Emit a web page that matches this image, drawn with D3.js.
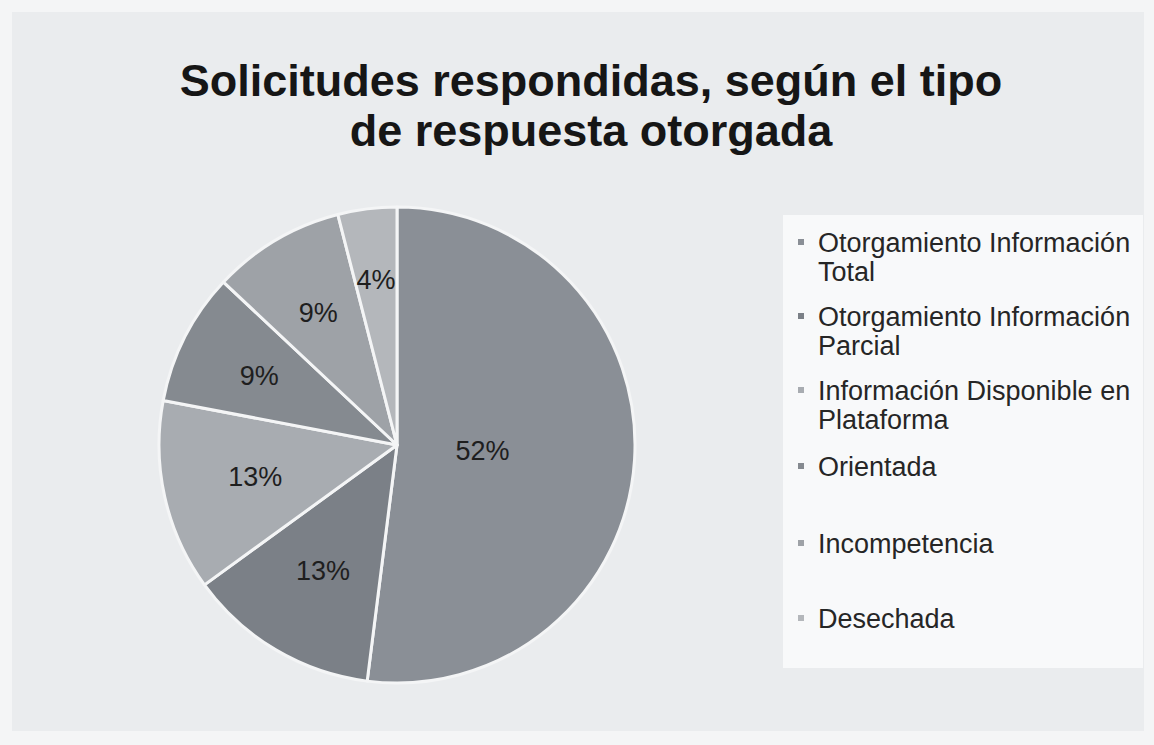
<!DOCTYPE html>
<html>
<head>
<meta charset="utf-8">
<script src="https://cdn.jsdelivr.net/npm/d3@7"></script>
<style>
  body { margin: 0; background: #f4f5f6; }
  svg { display: block; }
</style>
</head>
<body>
<svg id="chart"></svg>
<script>
// data
const categories = [
  ["Otorgamiento Información", "Total"],
  ["Otorgamiento Información", "Parcial"],
  ["Información Disponible en", "Plataforma"],
  ["Orientada"],
  ["Incompetencia"],
  ["Desechada"]
];
const values = [52, 13, 13, 9, 9, 4];
const colors = ["#8a8f96", "#7b8087", "#a8acb1", "#858a90", "#9ea2a7", "#b4b7bb"];
const titleLines = ["Solicitudes respondidas, según el tipo", "de respuesta otorgada"];

const font = "'Liberation Sans', Arial, sans-serif";
const W = 1154, H = 745;
const svg = d3.select("#chart").attr("width", W).attr("height", H);

// chart area (scan background)
svg.append("rect")
   .attr("x", 12).attr("y", 12)
   .attr("width", W - 22).attr("height", H - 26)
   .attr("fill", "#eaecee");

// title
svg.append("g")
   .selectAll("text")
   .data(titleLines)
   .enter().append("text")
   .attr("x", 591)
   .attr("y", (d, i) => 96 + i * 50)
   .attr("text-anchor", "middle")
   .attr("font-family", font)
   .attr("font-weight", "bold")
   .attr("font-size", 45)
   .attr("fill", "#161616")
   .text(d => d);

// pie
const cx = 397, cy = 445, R = 238;
const g = svg.append("g").attr("transform", `translate(${cx},${cy})`);

const pie = d3.pie().sort(null).value(d => d);
const arcs = pie(values);
const arc = d3.arc().innerRadius(0).outerRadius(R);
const total = d3.sum(values);

g.selectAll("path")
 .data(arcs)
 .enter().append("path")
 .attr("d", arc)
 .attr("fill", (d, i) => colors[i])
 .attr("stroke", "#f4f5f6")
 .attr("stroke-width", 3)
 .attr("stroke-linejoin", "round");

// labels - big slice sits near the centre, thin slices are pushed outward
const maxVal = d3.max(values);
g.selectAll(".lbl")
 .data(arcs)
 .enter().append("text")
 .attr("class", "lbl")
 .attr("transform", d => {
     const a = (d.startAngle + d.endAngle) / 2;
     const r = d.data === maxVal ? R * 0.36 : R * (0.61 + (0.13 - d.data / total));
     return `translate(${Math.sin(a) * r},${-Math.cos(a) * r})`;
 })
 .attr("text-anchor", "middle")
 .attr("dy", "0.36em")
 .attr("font-family", font)
 .attr("font-size", 27)
 .attr("fill", "#1e1e1e")
 .text(d => d.data + "%");

// legend
svg.append("rect")
   .attr("x", 783).attr("y", 215)
   .attr("width", 360).attr("height", 453)
   .attr("fill", "#f8f9fa");

const legendY = [252, 326, 400, 476, 553, 628];
const leg = svg.append("g")
   .selectAll("g")
   .data(categories)
   .enter().append("g")
   .attr("transform", (d, i) => `translate(798,${legendY[i]})`);

leg.append("rect")
   .attr("x", 0).attr("y", -13)
   .attr("width", 6).attr("height", 6)
   .attr("fill", (d, i) => colors[i]);

leg.append("text")
   .attr("font-family", font)
   .attr("font-size", 27)
   .attr("fill", "#262626")
   .selectAll("tspan")
   .data(d => d)
   .enter().append("tspan")
   .attr("x", 20)
   .attr("y", (d, i) => i * 29)
   .text(d => d);
</script>
</body>
</html>
